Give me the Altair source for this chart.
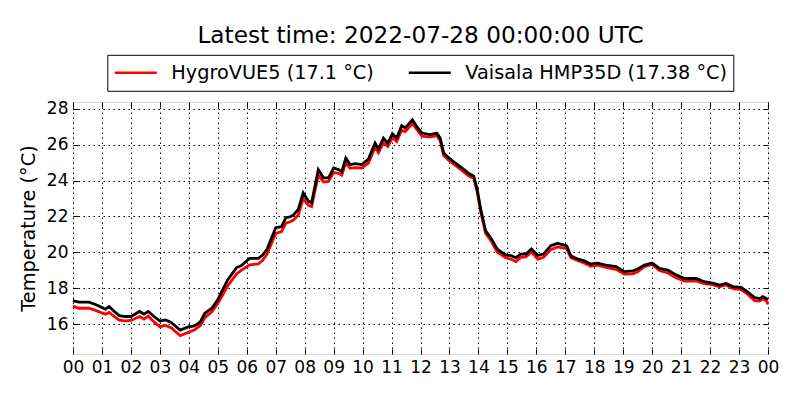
import altair as alt
import pandas as pd

hours = [0.0, 0.2, 0.55, 0.8, 1.0, 1.12, 1.25, 1.4, 1.6, 1.8, 2.0, 2.3, 2.45, 2.6, 2.8,
         3.0, 3.2, 3.4, 3.7, 4.0, 4.2, 4.4, 4.55, 4.8, 5.0, 5.2, 5.35, 5.65, 5.8, 6.1,
         6.4, 6.55, 6.7, 7.0, 7.2, 7.35, 7.5, 7.6, 7.78, 7.95, 8.13, 8.24, 8.47, 8.65,
         8.82, 9.0, 9.17, 9.28, 9.42, 9.57, 9.74, 9.97, 10.2, 10.43, 10.55, 10.72,
         10.87, 11.03, 11.18, 11.35, 11.47, 11.72, 11.87, 12.05, 12.33, 12.56, 12.68,
         12.8, 12.98, 13.2, 13.44, 13.67, 13.84, 13.96, 14.08, 14.25, 14.42, 14.65,
         14.94, 15.12, 15.29, 15.46, 15.64, 15.83, 16.05, 16.25, 16.5, 16.73, 17.05,
         17.19, 17.42, 17.65, 17.88, 18.11, 18.4, 18.75, 19.04, 19.33, 19.5, 19.73,
         20.0, 20.25, 20.54, 20.77, 21.11, 21.52, 21.8, 22.09, 22.32, 22.55, 22.79,
         23.07, 23.25, 23.54, 23.71, 23.82, 23.94, 24.0]

vaisala = [17.30, 17.22, 17.22, 17.08, 16.92, 16.83, 16.98, 16.74, 16.47, 16.42, 16.42,
           16.70, 16.55, 16.70, 16.42, 16.17, 16.23, 16.08, 15.66, 15.85, 15.89, 16.13,
           16.60, 16.89, 17.36, 18.02, 18.49, 19.15, 19.25, 19.66, 19.66, 19.85, 20.17,
           21.37, 21.43, 21.93, 21.98, 22.06, 22.39, 23.31, 22.85, 22.76, 24.61, 24.15,
           24.15, 24.70, 24.61, 24.50, 25.26, 24.89, 24.94, 24.89, 25.20, 26.09, 25.76,
           26.37, 26.09, 26.61, 26.37, 27.06, 26.93, 27.39, 27.02, 26.65, 26.56, 26.65,
           26.37, 25.54, 25.26, 24.98, 24.70, 24.39, 24.24, 23.50, 22.39, 21.19, 20.83,
           20.18, 19.85, 19.81, 19.70, 19.90, 19.90, 20.19, 19.83, 19.90, 20.37, 20.50,
           20.35, 19.81, 19.63, 19.53, 19.35, 19.40, 19.29, 19.20, 18.92, 18.97, 19.07,
           19.29, 19.40, 19.10, 19.01, 18.79, 18.54, 18.54, 18.36, 18.28, 18.17, 18.26,
           18.09, 18.04, 17.85, 17.48, 17.42, 17.53, 17.42, 17.38]

hygrovue = [17.00, 16.88, 16.88, 16.75, 16.62, 16.55, 16.65, 16.45, 16.22, 16.18, 16.20,
            16.42, 16.28, 16.45, 16.12, 15.85, 15.92, 15.78, 15.35, 15.55, 15.68, 15.92,
            16.35, 16.70, 17.15, 17.72, 18.15, 18.80, 18.98, 19.30, 19.35, 19.55, 19.90,
            21.05, 21.15, 21.62, 21.70, 21.78, 22.08, 23.00, 22.62, 22.55, 24.30, 23.92,
            23.95, 24.45, 24.40, 24.30, 24.98, 24.68, 24.72, 24.70, 24.98, 25.85, 25.55,
            26.12, 25.90, 26.38, 26.18, 26.82, 26.72, 27.18, 26.85, 26.48, 26.42, 26.50,
            26.22, 25.40, 25.12, 24.85, 24.55, 24.25, 24.12, 23.35, 22.25, 21.05, 20.68,
            20.02, 19.70, 19.62, 19.48, 19.72, 19.75, 20.02, 19.62, 19.72, 20.15, 20.30,
            20.20, 19.70, 19.55, 19.40, 19.22, 19.28, 19.16, 19.05, 18.78, 18.80, 18.92,
            19.20, 19.32, 18.98, 18.85, 18.62, 18.40, 18.40, 18.26, 18.20, 18.08, 18.18,
            17.98, 17.92, 17.72, 17.30, 17.28, 17.40, 17.30, 17.10]

name_h = "HygroVUE5 (17.1 °C)"
name_v = "Vaisala HMP35D (17.38 °C)"
x_ticks = list(range(0, 25))
y_ticks = [16, 18, 20, 22, 24, 26, 28]

df_h = pd.DataFrame({"hour": hours, "temp": hygrovue, "sensor": name_h})
df_v = pd.DataFrame({"hour": hours, "temp": vaisala, "sensor": name_v})

FONT = "DejaVu Sans"
TICK = 5
x_scale = alt.Scale(domain=[0, 24], nice=False, zero=False)
y_scale = alt.Scale(domain=[14.33, 28.38], nice=False, zero=False)

color = alt.Color(
    "sensor:N",
    scale=alt.Scale(domain=[name_h, name_v], range=["#ff0000", "#000000"]),
    legend=alt.Legend(
        orient="none", legendX=34.3, legendY=-47.2, direction="horizontal",
        title=None, symbolType="stroke", symbolSize=1764, symbolStrokeWidth=2.5,
        labelFontSize=19.3, labelFont=FONT, labelColor="black", labelOffset=13,
        columnPadding=33, padding=6, clipHeight=24, strokeColor="black",
        fillColor="white", labelLimit=0,
    ),
)

# main axes (bottom / left) with labels, inward ticks via negative offset
x_main = alt.X(
    "hour:Q", scale=x_scale,
    axis=alt.Axis(
        orient="bottom", offset=-TICK, values=x_ticks, title=None,
        ticks=True, tickSize=TICK, tickColor="black", tickWidth=1, domain=False,
        labelExpr="datum.value >= 24 ? '00' : (datum.value < 10 ? '0' + datum.value : '' + datum.value)",
        labelFontSize=17, labelFont=FONT, labelColor="black", labelPadding=5,
        grid=True, gridColor="black", gridDash=[1.5, 3.5], gridWidth=1,
        labelFlush=False, labelOverlap=False,
    ),
)
y_main = alt.Y(
    "temp:Q", scale=y_scale,
    axis=alt.Axis(
        orient="left", offset=-TICK, values=y_ticks, title="Temperature (°C)",
        ticks=True, tickSize=TICK, tickColor="black", tickWidth=1, domain=False,
        labelFontSize=17, labelFont=FONT, labelColor="black", labelPadding=5,
        titleFontSize=19.3, titleFont=FONT, titleFontWeight="normal",
        titleColor="black", titlePadding=8,
        grid=True, gridColor="black", gridDash=[1.5, 3.5], gridWidth=1,
        labelFlush=False,
    ),
)
# mirror axes (top / right): inward ticks only
x_top = alt.X(
    "hour:Q", scale=x_scale,
    axis=alt.Axis(
        orient="top", offset=-TICK, values=x_ticks, title=None, labels=False,
        ticks=True, tickSize=TICK, tickColor="black", tickWidth=1, domain=False,
        grid=False,
    ),
)
y_right = alt.Y(
    "temp:Q", scale=y_scale,
    axis=alt.Axis(
        orient="right", offset=-TICK, values=y_ticks, title=None, labels=False,
        ticks=True, tickSize=TICK, tickColor="black", tickWidth=1, domain=False,
        grid=False,
    ),
)

red = alt.Chart(df_h).mark_line(strokeWidth=2.8).encode(x=x_main, y=y_main, color=color)
black = alt.Chart(df_v).mark_line(strokeWidth=2.8).encode(x=x_top, y=y_right, color=color)

chart = (
    alt.layer(red, black)
    .resolve_scale(x="shared", y="shared")
    .resolve_axis(x="independent", y="independent")
    .properties(
        width=695, height=252,
        title=alt.TitleParams(
            "Latest time: 2022-07-28 00:00:00 UTC",
            fontSize=23.2, font=FONT, fontWeight="normal", color="black",
            anchor="middle", offset=6,
        ),
        autosize=alt.AutoSizeParams(type="none"),
        padding={"left": 65, "top": 94, "right": 24, "bottom": 38},
    )
    .configure_view(stroke="black", strokeWidth=1)
    .configure(background="white")
)

chart.save("out.html", embed_options={"renderer": "svg", "actions": False})
